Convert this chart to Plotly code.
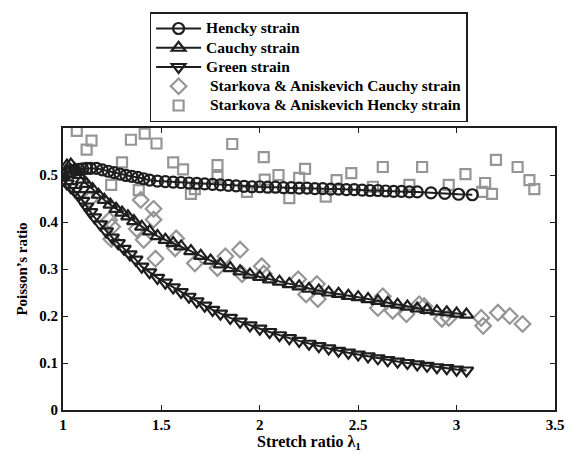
import plotly.graph_objects as go

# Model curves: Poisson's ratio vs stretch ratio for three strain measures
hencky_x = [1.00, 1.02, 1.04, 1.06, 1.08, 1.10, 1.12, 1.14, 1.17, 1.20, 1.23, 1.26, 1.29, 1.32,
            1.35, 1.38, 1.41, 1.44, 1.48, 1.52, 1.56, 1.60, 1.64, 1.68, 1.72, 1.76, 1.80, 1.84,
            1.88, 1.92, 1.96, 2.00, 2.04, 2.08, 2.12, 2.16, 2.20, 2.24, 2.28, 2.32, 2.36, 2.40,
            2.44, 2.48, 2.52, 2.56, 2.60, 2.64, 2.68, 2.72, 2.76, 2.80, 2.87, 2.94, 3.01, 3.08]
hencky_y = [0.500, 0.504, 0.508, 0.510, 0.512, 0.513, 0.514, 0.514, 0.514, 0.511, 0.508, 0.505,
            0.502, 0.499, 0.497, 0.495, 0.492, 0.489, 0.487, 0.486, 0.485, 0.484, 0.483, 0.482,
            0.481, 0.480, 0.479, 0.478, 0.477, 0.476, 0.475, 0.475, 0.474, 0.474, 0.473, 0.473,
            0.472, 0.472, 0.471, 0.471, 0.470, 0.470, 0.469, 0.469, 0.468, 0.467, 0.467, 0.466,
            0.465, 0.465, 0.464, 0.464, 0.462, 0.461, 0.459, 0.458]

cauchy_x = [1.00, 1.02, 1.04, 1.06, 1.08, 1.10, 1.12, 1.15, 1.18, 1.21, 1.24, 1.27, 1.30, 1.33,
            1.36, 1.40, 1.44, 1.48, 1.52, 1.56, 1.60, 1.65, 1.70, 1.75, 1.80, 1.85, 1.90, 1.95,
            2.00, 2.05, 2.10, 2.15, 2.20, 2.25, 2.30, 2.35, 2.40, 2.45, 2.50, 2.55, 2.60, 2.65,
            2.70, 2.75, 2.80, 2.85, 2.90, 2.95, 3.00, 3.05]
cauchy_y = [0.500, 0.520, 0.522, 0.512, 0.500, 0.490, 0.481, 0.470, 0.458, 0.447, 0.437, 0.428,
            0.420, 0.412, 0.402, 0.390, 0.380, 0.370, 0.362, 0.355, 0.348, 0.338, 0.328, 0.318,
            0.310, 0.302, 0.295, 0.288, 0.283, 0.278, 0.273, 0.268, 0.263, 0.258, 0.254, 0.250,
            0.247, 0.243, 0.240, 0.236, 0.232, 0.228, 0.224, 0.220, 0.216, 0.213, 0.210, 0.208,
            0.205, 0.203]

green_x = [1.00, 1.02, 1.04, 1.06, 1.08, 1.10, 1.12, 1.14, 1.16, 1.19, 1.22, 1.25, 1.28, 1.31,
           1.34, 1.37, 1.40, 1.44, 1.48, 1.52, 1.56, 1.60, 1.64, 1.68, 1.72, 1.76, 1.80, 1.85,
           1.90, 1.95, 2.00, 2.05, 2.10, 2.15, 2.20, 2.25, 2.30, 2.35, 2.40, 2.45, 2.50, 2.55,
           2.60, 2.65, 2.70, 2.75, 2.80, 2.85, 2.90, 2.95, 3.00, 3.05]
green_y = [0.490, 0.482, 0.474, 0.466, 0.457, 0.445, 0.433, 0.421, 0.410, 0.395, 0.380, 0.367,
           0.355, 0.343, 0.331, 0.320, 0.305, 0.293, 0.281, 0.271, 0.261, 0.251, 0.241, 0.231,
           0.222, 0.213, 0.205, 0.196, 0.188, 0.180, 0.173, 0.166, 0.159, 0.153, 0.147, 0.141,
           0.136, 0.131, 0.126, 0.122, 0.118, 0.114, 0.110, 0.106, 0.103, 0.100, 0.097, 0.094,
           0.091, 0.089, 0.086, 0.084]

# Experimental data (Starkova & Aniskevich)
exp_cauchy_x = [1.135, 1.235, 1.25, 1.245, 1.375, 1.395, 1.41, 1.46, 1.46, 1.47, 1.575, 1.57,
                1.67, 1.785, 1.825, 1.90, 1.91, 2.01, 2.02, 2.195, 2.235, 2.29, 2.295, 2.60,
                2.625, 2.675, 2.745, 2.81, 2.835, 2.925, 2.96, 3.125, 3.135, 3.21, 3.27, 3.335]
exp_cauchy_y = [0.448, 0.404, 0.390, 0.364, 0.385, 0.447, 0.362, 0.428, 0.405, 0.322, 0.365, 0.344,
                0.312, 0.302, 0.327, 0.341, 0.289, 0.306, 0.290, 0.278, 0.246, 0.268, 0.236, 0.217,
                0.242, 0.211, 0.204, 0.225, 0.221, 0.194, 0.196, 0.196, 0.179, 0.207, 0.200, 0.183]

exp_hencky_x = [1.07, 1.12, 1.145, 1.245, 1.30, 1.345, 1.385, 1.415, 1.475, 1.56, 1.61, 1.65,
                1.67, 1.785, 1.785, 1.86, 1.935, 2.02, 2.025, 2.095, 2.15, 2.20, 2.23, 2.335,
                2.39, 2.465, 2.575, 2.625, 2.76, 2.825, 2.96, 3.045, 3.13, 3.145, 3.18, 3.20,
                3.31, 3.37, 3.395]
exp_hencky_y = [0.594, 0.554, 0.573, 0.479, 0.527, 0.575, 0.468, 0.588, 0.567, 0.527, 0.512, 0.460,
                0.470, 0.521, 0.496, 0.566, 0.464, 0.538, 0.490, 0.500, 0.451, 0.494, 0.513, 0.454,
                0.489, 0.504, 0.475, 0.517, 0.479, 0.517, 0.479, 0.502, 0.464, 0.483, 0.460, 0.532,
                0.517, 0.489, 0.470]

x_ticks = [1, 1.5, 2, 2.5, 3, 3.5]
y_ticks = [0, 0.1, 0.2, 0.3, 0.4, 0.5]

BLACK = "#1e1e1e"
GRAY = "#969696"
FONT = "Liberation Serif"


def legend_label(text):
    # larger glyphs inside a compact legend row
    return f'<span style="font-size:15.5px"><b>{text}</b></span>'


fig = go.Figure()

fig.add_trace(go.Scatter(
    x=exp_cauchy_x, y=exp_cauchy_y, mode="markers",
    name=legend_label("&nbsp;Starkova &amp; Aniskevich Cauchy strain"), legendrank=4,
    marker=dict(symbol="diamond-open", size=12, color=GRAY, line=dict(width=2.2, color=GRAY)),
))
fig.add_trace(go.Scatter(
    x=exp_hencky_x, y=exp_hencky_y, mode="markers",
    name=legend_label("&nbsp;Starkova &amp; Aniskevich Hencky strain"), legendrank=5,
    marker=dict(symbol="square-open", size=10, color=GRAY, line=dict(width=2.2, color=GRAY)),
))
fig.add_trace(go.Scatter(
    x=hencky_x, y=hencky_y, mode="lines+markers", name=legend_label("Hencky strain"), legendrank=1,
    line=dict(color=BLACK, width=2),
    marker=dict(symbol="circle-open", size=11, color=BLACK, line=dict(width=2.2, color=BLACK)),
))
fig.add_trace(go.Scatter(
    x=cauchy_x, y=cauchy_y, mode="lines+markers", name=legend_label("Cauchy strain"), legendrank=2,
    line=dict(color=BLACK, width=2),
    marker=dict(symbol="triangle-up-open", size=12, color=BLACK, line=dict(width=2.2, color=BLACK)),
))
fig.add_trace(go.Scatter(
    x=green_x, y=green_y, mode="lines+markers", name=legend_label("Green strain"), legendrank=3,
    line=dict(color=BLACK, width=2),
    marker=dict(symbol="triangle-down-open", size=12, color=BLACK, line=dict(width=2.2, color=BLACK)),
))

axis_common = dict(
    showline=True, linecolor=BLACK, linewidth=1.8, mirror="ticks",
    ticks="inside", ticklen=5, tickwidth=1, tickcolor=BLACK,
    showgrid=False, zeroline=False,
    tickfont=dict(family=FONT, size=15, color="black"),
)

fig.update_layout(
    width=576, height=460,
    margin=dict(l=63, r=13, t=125, b=50),
    paper_bgcolor="white", plot_bgcolor="white",
    font=dict(family=FONT, color="black"),
    xaxis=dict(range=[1, 3.5], tickvals=x_ticks, ticktext=[f"<b>{v:g}</b>" for v in x_ticks],
               title=dict(text="<b>Stretch ratio λ<sub>1</sub></b>",
                          font=dict(family=FONT, size=16), standoff=4),
               **axis_common),
    yaxis=dict(range=[0, 0.6], tickvals=y_ticks, ticktext=[f"<b>{v:g}</b>" for v in y_ticks],
               title=dict(text="<b>Poisson’s ratio</b>", font=dict(family=FONT, size=15), standoff=8),
               **axis_common),
    legend=dict(
        x=0.176, y=1.41, xanchor="left", yanchor="top",
        bgcolor="white", bordercolor=BLACK, borderwidth=1.5,
        font=dict(family=FONT, size=12.5, color="black"),
        itemwidth=45, tracegroupgap=0,
    ),
    showlegend=True,
)

fig.write_html("out.html")
